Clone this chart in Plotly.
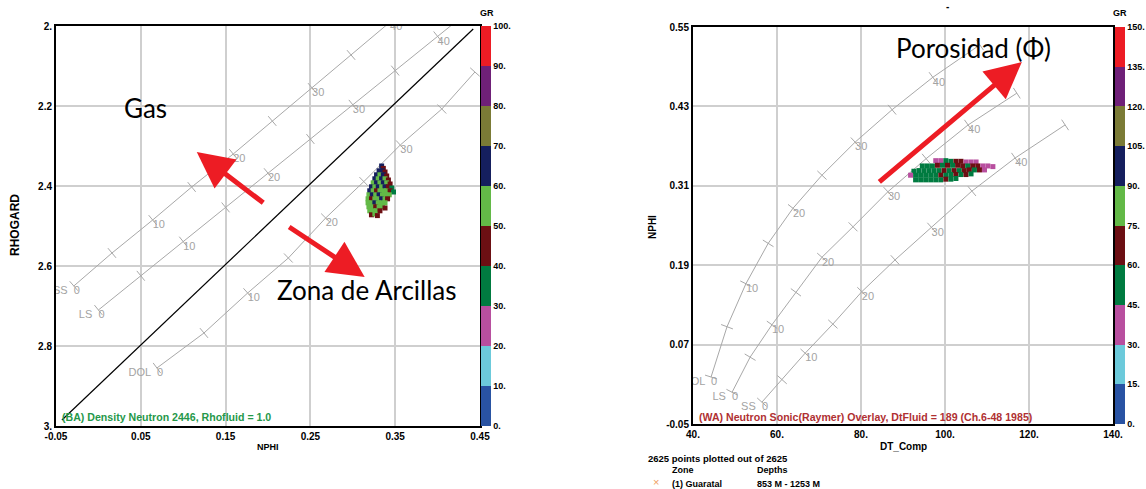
import numpy as np
import plotly.graph_objects as go

# ---------------- DATA ----------------
# Left chart: Density-Neutron (NPHI vs RHOGARD) lithology lines, porosity in %
nd_pct = [0, 5, 10, 15, 20, 25, 30, 35, 40]
nd_ss_nphi = [-0.029, 0.016, 0.064, 0.110, 0.159, 0.205, 0.252, 0.298, 0.344]
nd_ss_rhob = [2.650, 2.5675, 2.485, 2.4025, 2.320, 2.2375, 2.155, 2.0725, 1.990]
nd_ls_pct = [0, 5, 10, 15, 20, 25, 30, 35, 40, 45]
nd_ls_nphi = [0.000, 0.050, 0.100, 0.150, 0.200, 0.250, 0.300, 0.350, 0.400, 0.450]
nd_ls_rhob = [2.710, 2.6245, 2.539, 2.4535, 2.368, 2.2825, 2.197, 2.1115, 2.026, 1.9405]
nd_dol_nphi = [0.069, 0.1245, 0.176, 0.224, 0.268, 0.313, 0.356, 0.405, 0.444]
nd_dol_rhob = [2.855, 2.7675, 2.6675, 2.580, 2.480, 2.389, 2.2975, 2.2075, 2.115]
nd_diag_nphi = [-0.043, 0.442]
nd_diag_rhob = [2.985, 2.0075]

# Left chart: points (NPHI, RHOGARD, GR)
nd_pt_nphi = [0.334, 0.336,
              0.331, 0.335, 0.338,
              0.328, 0.332, 0.336, 0.340,
              0.326, 0.330, 0.334, 0.338, 0.342,
              0.324, 0.328, 0.332, 0.336, 0.340, 0.344,
              0.322, 0.326, 0.330, 0.334, 0.338, 0.342, 0.346,
              0.320, 0.324, 0.328, 0.332, 0.336, 0.340, 0.344, 0.348,
              0.319, 0.323, 0.327, 0.331, 0.335, 0.339, 0.343,
              0.318, 0.322, 0.326, 0.330, 0.334, 0.338, 0.341,
              0.318, 0.322, 0.326, 0.330, 0.334, 0.338,
              0.319, 0.323, 0.327, 0.331, 0.335, 0.338,
              0.320, 0.324, 0.328, 0.332,
              0.322, 0.326, 0.329]
nd_pt_rhob = [2.350, 2.356,
              2.362, 2.362, 2.365,
              2.372, 2.372, 2.372, 2.375,
              2.382, 2.382, 2.382, 2.382, 2.385,
              2.392, 2.392, 2.392, 2.392, 2.392, 2.395,
              2.402, 2.402, 2.402, 2.402, 2.402, 2.402, 2.405,
              2.412, 2.412, 2.412, 2.412, 2.412, 2.412, 2.412, 2.415,
              2.422, 2.422, 2.422, 2.422, 2.422, 2.422, 2.422,
              2.432, 2.432, 2.432, 2.432, 2.432, 2.432, 2.432,
              2.442, 2.442, 2.442, 2.442, 2.442, 2.442,
              2.452, 2.452, 2.452, 2.452, 2.452, 2.455,
              2.462, 2.462, 2.462, 2.462,
              2.472, 2.470, 2.474]
nd_pt_gr = [65, 45,
            65, 62, 44,
            63, 55, 66, 45,
            64, 57, 66, 54, 44,
            55, 66, 57, 64, 55, 45,
            66, 55, 62, 56, 66, 44, 35,
            64, 56, 45, 55, 58, 55, 45, 33,
            55, 65, 55, 66, 55, 57, 52,
            56, 44, 57, 55, 65, 56, 45,
            58, 55, 64, 55, 56, 54,
            55, 57, 45, 56, 55, 44,
            56, 55, 57, 44,
            45, 56, 44]

# Right chart: Neutron-Sonic (Raymer) lithology lines
ns_pct = [0, 5, 10, 15, 20, 25, 30, 35, 40, 45]
ns_dol_dt = [44.3, 48.1, 52.6, 57.9, 63.8, 70.7, 78.6, 87.4, 97.1, 108.3]
ns_dol_nphi = [0.021, 0.097, 0.162, 0.223, 0.276, 0.326, 0.376, 0.425, 0.474, 0.523]
ns_ls_dt = [49.3, 53.6, 58.8, 64.5, 70.7, 78.1, 86.4, 95.5, 105.5, 117.1]
ns_ls_nphi = [-0.002, 0.051, 0.100, 0.149, 0.202, 0.248, 0.301, 0.351, 0.402, 0.450]
ns_ss_dt = [56.4, 61.2, 66.7, 73.3, 80.2, 88.1, 96.8, 106.4, 116.7, 128.6]
ns_ss_nphi = [-0.017, 0.017, 0.057, 0.101, 0.150, 0.198, 0.247, 0.302, 0.352, 0.402]

# Right chart: points (DT_Comp, NPHI, GR)
ns_pt_dt = [97.8, 99.0, 100.2, 101.4, 102.6, 103.8, 105.0, 106.2, 107.4,
            94.6, 95.8, 97.0, 98.2, 99.4, 100.6, 101.8, 103.0, 104.2, 105.4, 106.6, 107.8, 109.0, 110.2, 111.4,
            92.6, 93.8, 95.0, 96.2, 97.4, 98.6, 99.8, 101.0, 102.2, 103.4, 104.6, 105.8, 107.0, 108.2, 109.4,
            91.8, 93.0, 94.2, 95.4, 96.6, 97.8, 99.0, 100.2, 101.4, 102.6, 103.8, 105.0, 106.2,
            93.0, 94.2, 95.4, 96.6, 97.8, 99.0, 100.2, 101.4, 102.6]
ns_pt_nphi = [0.348, 0.348, 0.348, 0.347, 0.347, 0.347, 0.346, 0.346, 0.346,
              0.340, 0.340, 0.340, 0.341, 0.341, 0.341, 0.341, 0.341, 0.340, 0.340, 0.340, 0.340, 0.340, 0.340, 0.339,
              0.332, 0.333, 0.333, 0.333, 0.333, 0.333, 0.333, 0.333, 0.333, 0.333, 0.333, 0.334, 0.334, 0.334, 0.334,
              0.326, 0.326, 0.326, 0.326, 0.326, 0.326, 0.326, 0.326, 0.327, 0.327, 0.327, 0.327, 0.328,
              0.319, 0.319, 0.319, 0.319, 0.319, 0.319, 0.320, 0.320, 0.321]
ns_pt_gr = [35, 38, 50, 52, 66, 64, 38, 40, 36,
            52, 50, 53, 66, 50, 65, 52, 66, 64, 52, 67, 65, 38, 36, 35,
            50, 52, 48, 51, 55, 49, 66, 52, 68, 50, 65, 66, 52, 64, 40,
            36, 50, 52, 49, 53, 51, 66, 50, 52, 65, 52, 67, 55,
            50, 52, 50, 48, 53, 51, 66, 50, 52]

# Colorbar ticks
gr_left_ticks = [0, 10, 20, 30, 40, 50, 60, 70, 80, 90, 100]
gr_left_text = ["0.", "10.", "20.", "30.", "40.", "50.", "60.", "70.", "80.", "90.", "100."]
gr_right_ticks = [0, 15, 30, 45, 60, 75, 90, 105, 120, 135, 150]
gr_right_text = ["0.", "15.", "30.", "45.", "60.", "75.", "90.", "105.", "120.", "135.", "150."]

# Axis ticks
nd_x_ticks = [-0.05, 0.05, 0.15, 0.25, 0.35, 0.45]
nd_x_text = ["-0.05", "0.05", "0.15", "0.25", "0.35", "0.45"]
nd_y_ticks = [2.0, 2.2, 2.4, 2.6, 2.8, 3.0]
nd_y_text = ["2.", "2.2", "2.4", "2.6", "2.8", "3."]
ns_x_ticks = [40, 60, 80, 100, 120, 140]
ns_x_text = ["40.", "60.", "80.", "100.", "120.", "140."]
ns_y_ticks = [-0.05, 0.07, 0.19, 0.31, 0.43, 0.55]
ns_y_text = ["-0.05", "0.07", "0.19", "0.31", "0.43", "0.55"]

# ---------------- STYLE / LAYOUT ----------------
W, H = 1146, 489
GR_COLORS = ["#2953a3", "#6ccadb", "#b84f9f", "#007b40", "#6c0f13",
             "#63b947", "#151f5e", "#7b7b36", "#6f2078", "#ed1c24"]
colorscale = []
for i, c in enumerate(GR_COLORS):
    colorscale.append([i / 10, c])
    colorscale.append([(i + 1) / 10, c])

LX = (56, 480); LY = (26, 426)      # pixel box of left plot
RX = (693, 1113); RY = (27, 424)    # pixel box of right plot
L_XR = [-0.05, 0.45]; L_YR = [3.0, 2.0]
R_XR = [40, 140]; R_YR = [-0.05, 0.55]

def xdom(px): return [px[0] / W, px[1] / W]
def ydom(py): return [1 - py[1] / H, 1 - py[0] / H]

LINE_GREY = "#a8a8a8"
LABEL_GREY = "#a3a3a3"
TICKFONT = dict(family="Liberation Sans, Arial", size=10, color="black", weight="bold")

fig = go.Figure()


def tick_angles(xs, ys, pxbox, pyh, xr, yr):
    xs = np.asarray(xs, float); ys = np.asarray(ys, float)
    sx = (pxbox[1] - pxbox[0]) / (xr[1] - xr[0])
    sy = pyh / (yr[1] - yr[0])  # screen px (up) per unit
    px = (xs - xr[0]) * sx
    py_up = (ys - yr[0]) * sy
    dx = np.gradient(px)
    dy_down = -np.gradient(py_up)
    return list(np.degrees(np.arctan2(dy_down, dx)))


def add_curve(xs, ys, pct, name, xa, ya, box, label_last=True):
    pxbox, pyh, xr, yr = box
    fig.add_trace(go.Scatter(x=xs, y=ys, mode="lines", xaxis=xa, yaxis=ya,
                             line=dict(color=LINE_GREY, width=1),
                             hoverinfo="skip", showlegend=False))
    fig.add_trace(go.Scatter(x=xs, y=ys, mode="markers", xaxis=xa, yaxis=ya,
                             marker=dict(symbol="line-ns", size=9,
                                         angle=tick_angles(xs, ys, pxbox, pyh, xr, yr),
                                         line=dict(color=LINE_GREY, width=1)),
                             hoverinfo="skip", showlegend=False))
    n = len(pct) if label_last else len(pct) - 1
    lx = [x for x, p in zip(xs[:n], pct[:n]) if p % 10 == 0]
    ly = [y for y, p in zip(ys[:n], pct[:n]) if p % 10 == 0]
    lt = [str(p) for p in pct[:n] if p % 10 == 0]
    fig.add_trace(go.Scatter(x=lx, y=ly, mode="text", text=lt, xaxis=xa, yaxis=ya,
                             textposition="bottom right",
                             textfont=dict(family="Liberation Sans, Arial", size=11, color=LABEL_GREY),
                             hoverinfo="skip", showlegend=False, cliponaxis=True))
    fig.add_trace(go.Scatter(x=[xs[0]], y=[ys[0]], mode="text", text=[name + "  "], xaxis=xa, yaxis=ya,
                             textposition="bottom left",
                             textfont=dict(family="Liberation Sans, Arial", size=11, color=LABEL_GREY),
                             hoverinfo="skip", showlegend=False, cliponaxis=True))


LBOX = (LX, LY[1] - LY[0], L_XR, L_YR)
RBOX = (RX, RY[1] - RY[0], R_XR, R_YR)

# left chart
add_curve(nd_ss_nphi, nd_ss_rhob, nd_pct, "SS", "x", "y", LBOX)
add_curve(nd_ls_nphi, nd_ls_rhob, nd_ls_pct, "LS", "x", "y", LBOX)
add_curve(nd_dol_nphi, nd_dol_rhob, nd_pct, "DOL", "x", "y", LBOX, label_last=False)
fig.add_trace(go.Scatter(x=nd_diag_nphi, y=nd_diag_rhob, mode="lines",
                         line=dict(color="black", width=1.2), hoverinfo="skip", showlegend=False))
fig.add_trace(go.Scatter(x=nd_pt_nphi, y=nd_pt_rhob, mode="markers",
                         marker=dict(symbol="square", size=5, color=nd_pt_gr, coloraxis="coloraxis"),
                         showlegend=False))

# right chart
add_curve(ns_dol_dt, ns_dol_nphi, ns_pct, "DOL", "x2", "y2", RBOX)
add_curve(ns_ls_dt, ns_ls_nphi, ns_pct, "LS", "x2", "y2", RBOX)
add_curve(ns_ss_dt, ns_ss_nphi, ns_pct, "SS", "x2", "y2", RBOX)
fig.add_trace(go.Scatter(x=ns_pt_dt, y=ns_pt_nphi, mode="markers", xaxis="x2", yaxis="y2",
                         marker=dict(symbol="square", size=5, color=ns_pt_gr, coloraxis="coloraxis2"),
                         showlegend=False))

axis_common = dict(showgrid=True, gridcolor="#cfcfcf", gridwidth=1.5, showline=True,
                   linecolor="black", linewidth=2, mirror=True, ticks="", zeroline=False,
                   tickfont=TICKFONT, tickmode="array", automargin=False)


def cbar(xpix, ybox, vals, texts):
    return dict(thickness=10, thicknessmode="pixels", len=ybox[1] - ybox[0], lenmode="pixels",
                x=xpix / W, xanchor="left", xpad=0, y=1 - ybox[0] / H, yanchor="top", ypad=0,
                outlinewidth=0, tickmode="array", tickvals=vals, ticktext=texts, ticks="",
                tickfont=dict(family="Liberation Sans, Arial", size=9, color="black", weight="bold"))


fig.update_layout(
    width=W, height=H, autosize=False,
    margin=dict(l=0, r=0, t=0, b=0, autoexpand=False),
    paper_bgcolor="white", plot_bgcolor="white",
    xaxis=dict(domain=xdom(LX), range=L_XR, anchor="y", tickvals=nd_x_ticks, ticktext=nd_x_text, **axis_common),
    yaxis=dict(domain=ydom(LY), range=L_YR, anchor="x", tickvals=nd_y_ticks, ticktext=nd_y_text, **axis_common),
    xaxis2=dict(domain=xdom(RX), range=R_XR, anchor="y2", tickvals=ns_x_ticks, ticktext=ns_x_text, **axis_common),
    yaxis2=dict(domain=ydom(RY), range=R_YR, anchor="x2", tickvals=ns_y_ticks, ticktext=ns_y_text, **axis_common),
    coloraxis=dict(colorscale=colorscale, cmin=0, cmax=100,
                   colorbar=cbar(481, LY, gr_left_ticks, gr_left_text)),
    coloraxis2=dict(colorscale=colorscale, cmin=0, cmax=150,
                    colorbar=cbar(1115, RY, gr_right_ticks, gr_right_text)),
    showlegend=False,
)

BOLD = dict(family="Liberation Sans, Arial", color="black", weight="bold")
ann = []
# axis titles
ann.append(dict(text="RHOGARD", x=15 / W, y=1 - 225 / H, textangle=-90, font=dict(size=12, **BOLD)))
ann.append(dict(text="NPHI", x=268 / W, y=1 - 447 / H, font=dict(size=9, **BOLD)))
ann.append(dict(text="NPHI", x=652 / W, y=1 - 227 / H, textangle=-90, font=dict(size=10, **BOLD)))
ann.append(dict(text="DT_Comp", x=903 / W, y=1 - 446 / H, font=dict(size=10, **BOLD)))
ann.append(dict(text="GR", x=487 / W, y=1 - 13 / H, font=dict(size=9, **BOLD)))
ann.append(dict(text="GR", x=1120 / W, y=1 - 13 / H, font=dict(size=9, **BOLD)))
ann.append(dict(text="-", x=947 / W, y=1 - 7 / H, font=dict(size=10, **BOLD)))
# chart notes
ann.append(dict(text="(BA) Density Neutron 2446, Rhofluid = 1.0", x=60 / W, y=1 - 417 / H, xanchor="left",
                font=dict(family="Liberation Sans, Arial", size=10.6, color="#25984a", weight="bold")))
ann.append(dict(text="(WA) Neutron Sonic(Raymer) Overlay, DtFluid = 189 (Ch.6-48 1985)", x=697 / W, y=1 - 417 / H,
                xanchor="left", font=dict(family="Liberation Sans, Arial", size=10.6, color="#b03032", weight="bold")))
# footer info
ann.append(dict(text="2625 points plotted out of 2625", x=646 / W, y=1 - 458 / H, xanchor="left", font=dict(size=9.5, **BOLD)))
ann.append(dict(text="Zone", x=670 / W, y=1 - 470 / H, xanchor="left", font=dict(size=9, **BOLD)))
ann.append(dict(text="Depths", x=755 / W, y=1 - 470 / H, xanchor="left", font=dict(size=9, **BOLD)))
ann.append(dict(text="×", x=656 / W, y=1 - 482 / H, font=dict(family="Liberation Sans", size=11, color="#f0a060")))
ann.append(dict(text="(1) Guaratal", x=670 / W, y=1 - 484 / H, xanchor="left", font=dict(size=9, **BOLD)))
ann.append(dict(text="853 M - 1253 M", x=755 / W, y=1 - 484 / H, xanchor="left", font=dict(size=9, **BOLD)))
# big callout texts
BIG = dict(family="Lato, Open Sans", size=26, color="black")
ann.append(dict(text="Gas", x=0.055, y=2.205, xref="x", yref="y", font=BIG))
ann.append(dict(text="Zona de Arcillas", x=0.3167, y=2.66, xref="x", yref="y", font=BIG))
ann.append(dict(text="Porosidad (Φ)", x=106.7, y=0.518, xref="x2", yref="y2", font=BIG))
for a in ann:
    a.setdefault("xref", "paper"); a.setdefault("yref", "paper")
    a.setdefault("xanchor", "center"); a.setdefault("yanchor", "middle")
    a.setdefault("showarrow", False)

# red arrows (tip in data coords, tail offset in px)
ARROW = dict(showarrow=True, arrowhead=2, arrowsize=1.45, arrowwidth=5, arrowcolor="#ed1c24",
             text="", axref="pixel", ayref="pixel", standoff=0)
ann.append(dict(x=0.116, y=2.315, xref="x", yref="y", ax=68, ay=52, **ARROW))
ann.append(dict(x=0.314, y=2.6275, xref="x", yref="y", ax=-77, ay=-51, **ARROW))
ann.append(dict(x=118.3, y=0.497, xref="x2", yref="y2", ax=-144, ay=121, **ARROW))

fig.update_layout(annotations=ann)
fig.write_html("out.html")
